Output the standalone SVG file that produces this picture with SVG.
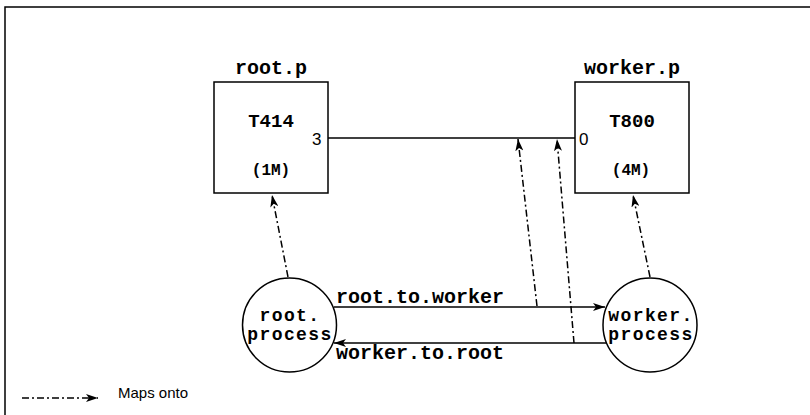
<svg xmlns="http://www.w3.org/2000/svg" width="810" height="415" viewBox="0 0 810 415">
<style>
.box{fill:#fff;stroke:#000;stroke-width:1.5}
.mono{font-family:"Liberation Mono","Courier New",monospace;font-weight:bold;fill:#000}
.sans{font-family:"Liberation Sans",Arial,sans-serif;fill:#000}
.ln{stroke:#000;stroke-width:1.3;fill:none}
.map{stroke:#000;stroke-width:1.5;fill:none;stroke-dasharray:7 3 2 3}
.ct{font-size:18px;letter-spacing:1.4px}
</style>
<defs>
<marker id="ah" viewBox="0 0 12 8" refX="12" refY="4" markerWidth="12" markerHeight="8" markerUnits="userSpaceOnUse" orient="auto">
<path d="M0,0 L12,4 L0,8 L3,4 Z" fill="#000"/>
</marker>
</defs>
<rect x="5" y="7" width="820" height="430" fill="#fff" stroke="#000" stroke-width="1.5"/>
<g id="root_p">
<text class="mono" x="271" y="74" font-size="20" text-anchor="middle">root.p</text>
<rect class="box" x="214" y="82" width="114" height="111"/>
<text class="mono" x="271" y="127" font-size="19" text-anchor="middle">T414</text>
<text class="mono" x="271" y="175" font-size="16" text-anchor="middle">(1M)</text>
<text class="sans" x="312" y="145" font-size="17">3</text>
</g>
<g id="worker_p">
<text class="mono" x="632" y="74" font-size="20" text-anchor="middle">worker.p</text>
<rect class="box" x="575" y="82" width="114" height="111"/>
<text class="mono" x="632" y="127" font-size="19" text-anchor="middle">T800</text>
<text class="mono" x="631" y="175" font-size="16" text-anchor="middle">(4M)</text>
<text class="sans" x="579" y="145" font-size="17">0</text>
</g>
<g id="root_process">
<circle class="box" cx="289.5" cy="325" r="47"/>
<text class="mono ct" x="290" y="321" text-anchor="middle">root.</text>
<text class="mono ct" x="290" y="340" text-anchor="middle">process</text>
</g>
<g id="worker_process">
<circle class="box" cx="650" cy="325" r="47"/>
<text class="mono ct" x="651" y="321" text-anchor="middle">worker.</text>
<text class="mono ct" x="651" y="340" text-anchor="middle">process</text>
</g>
<g id="connectors">
<line class="ln" x1="328" y1="138" x2="575" y2="138"/>
<line class="ln" x1="334" y1="307" x2="605" y2="307" marker-end="url(#ah)"/>
<line class="ln" x1="606" y1="343" x2="334" y2="343" marker-end="url(#ah)"/>
<line class="map" x1="288" y1="277" x2="272" y2="195" marker-end="url(#ah)"/>
<line class="map" x1="650" y1="277" x2="633" y2="195" marker-end="url(#ah)"/>
<line class="map" x1="537" y1="306" x2="518" y2="139" marker-end="url(#ah)"/>
<line class="map" x1="574" y1="343" x2="557" y2="139" marker-end="url(#ah)"/>
<text class="mono" x="336" y="303" font-size="20">root.to.worker</text>
<text class="mono" x="336" y="359" font-size="20">worker.to.root</text>
</g>
<g id="legend">
<line class="map" x1="22" y1="398" x2="98" y2="398" marker-end="url(#ah)"/>
<text class="sans" x="118" y="398" font-size="15">Maps onto</text>
</g>
</svg>
